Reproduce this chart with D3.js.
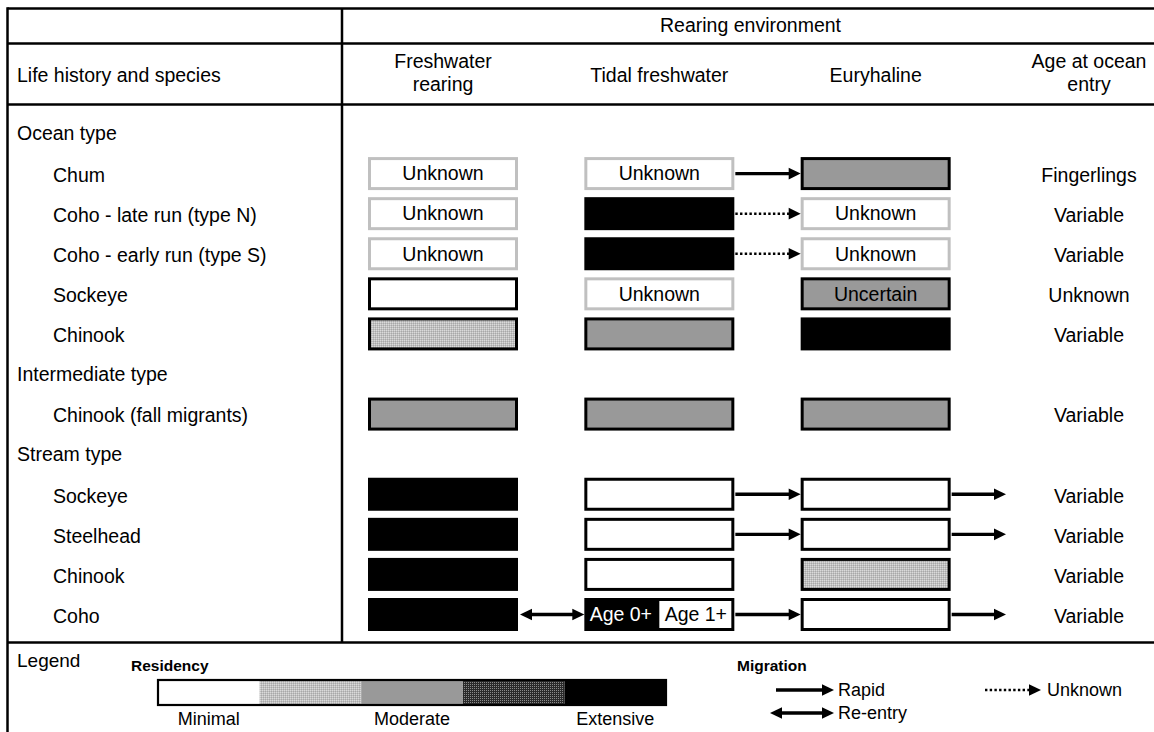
<!DOCTYPE html>
<html><head><meta charset="utf-8">
<script src="https://cdn.jsdelivr.net/npm/d3@7"></script>
<style>
html,body{margin:0;padding:0;background:#fff;}
svg{display:block;font-family:"Liberation Sans",Arial,Helvetica,sans-serif;}
</style></head><body>
<svg id="c" width="1154" height="732"></svg>
<script>
// ---------- data ----------
const spanHeader = "Rearing environment";
const rowHeader = "Life history and species";
const columns = ["Freshwater rearing", "Tidal freshwater", "Euryhaline", "Age at ocean entry"];
const columnHeaderLines = [["Freshwater", "rearing"], ["Tidal freshwater"], ["Euryhaline"], ["Age at ocean", "entry"]];
const rows = ["Ocean type", "Chum", "Coho - late run (type N)", "Coho - early run (type S)", "Sockeye", "Chinook",
  "Intermediate type", "Chinook (fall migrants)", "Stream type", "Sockeye", "Steelhead", "Chinook", "Coho"];
const isGroup = [true, false, false, false, false, false, true, false, true, false, false, false, false];
const residencyLevels = ["Minimal", "Low", "Moderate", "High", "Extensive"];
const residencyLegendLabels = ["Minimal", "", "Moderate", "", "Extensive"];
// residency per rearing environment (null = no box, "Unknown" = unknown, "Split" = Age 0+ / Age 1+)
const freshwater = [null, "Unknown", "Unknown", "Unknown", "Minimal", "Low", null, "Moderate", null, "Extensive", "Extensive", "Extensive", "Extensive"];
const tidal = [null, "Unknown", "Extensive", "Extensive", "Unknown", "Moderate", null, "Moderate", null, "Minimal", "Minimal", "Minimal", "Split"];
const euryhaline = [null, "Moderate", "Unknown", "Unknown", "Moderate", "Extensive", null, "Moderate", null, "Minimal", "Minimal", "Low", "Minimal"];
const euryhalineNotes = [null, null, null, null, "Uncertain", null, null, null, null, null, null, null, null];
const splitLabels = ["Age 0+", "Age 1+"];
const ageAtEntry = [null, "Fingerlings", "Variable", "Variable", "Unknown", "Variable", null, "Variable", null, "Variable", "Variable", "Variable", "Variable"];
// migrations: row index, from column, to column (3 = ocean), type
const migRow = [1, 2, 3, 9, 9, 10, 10, 12, 12, 12];
const migFrom = [1, 1, 1, 1, 2, 1, 2, 0, 1, 2];
const migTo = [2, 2, 2, 2, 3, 2, 3, 1, 2, 3];
const migType = ["Rapid", "Unknown", "Unknown", "Rapid", "Rapid", "Rapid", "Rapid", "Re-entry", "Rapid", "Rapid"];
const migrationLegend = ["Rapid", "Re-entry", "Unknown"];

// ---------- layout ----------
const W = 1154, H = 732;
const svg = d3.select("#c");
const FS = 19.5, LFS = 18, BFS = 15.5;
const frame = {left: 7.5, top: 8.5, divider: 342, hdr1: 43.5, hdr2: 104.5, bottom: 642.5};
const x = d3.scalePoint().domain(d3.range(columns.length)).range([443, 1092]);
const y = d3.scalePoint().domain(d3.range(rows.length)).range([133.5, 614.5]);
const boxW = 150, boxH = 33, sw = 3;

const defs = svg.append("defs");
const pLight = defs.append("pattern").attr("id", "light").attr("width", 2).attr("height", 2).attr("patternUnits", "userSpaceOnUse");
pLight.append("rect").attr("width", 2).attr("height", 2).attr("fill", "#c0c0c0");
pLight.append("rect").attr("width", 1).attr("height", 1).attr("fill", "#dadada");
pLight.append("rect").attr("x", 1).attr("y", 1).attr("width", 1).attr("height", 1).attr("fill", "#a8a8a8");
const pDark = defs.append("pattern").attr("id", "dark").attr("width", 2).attr("height", 2).attr("patternUnits", "userSpaceOnUse");
pDark.append("rect").attr("width", 2).attr("height", 2).attr("fill", "#2a2a2a");
pDark.append("rect").attr("width", 1).attr("height", 1).attr("fill", "#8a8a8a");
const fillFor = {Minimal: "#ffffff", Low: "url(#light)", Moderate: "#999999", High: "url(#dark)", Extensive: "#000000"};

// ---------- frame ----------
const g = svg.append("g").attr("stroke", "#000").attr("stroke-width", 2.5);
[frame.top, frame.hdr1, frame.hdr2, frame.bottom].forEach(v =>
  g.append("line").attr("x1", frame.left).attr("x2", W).attr("y1", v).attr("y2", v));
g.append("line").attr("x1", frame.left).attr("x2", frame.left).attr("y1", frame.top - 1.25).attr("y2", H);
g.append("line").attr("x1", frame.divider).attr("x2", frame.divider).attr("y1", frame.top).attr("y2", frame.bottom);

const txt = (sel, s, tx, ty, anchor, opts = {}) => sel.append("text").attr("x", tx).attr("y", ty)
  .attr("dy", "0.35em").attr("text-anchor", anchor).attr("font-size", opts.size || FS)
  .attr("font-weight", opts.weight || "normal").attr("fill", opts.fill || "#000").text(s);

// ---------- headers ----------
txt(svg, spanHeader, (x(0) + x(3)) / 2 - 17, 25.5, "middle");
txt(svg, rowHeader, 17, 75, "start");
columnHeaderLines.forEach((lines, i) => {
  const cx = x(i) - (i === 3 ? 3 : 0);
  if (lines.length === 1) txt(svg, lines[0], cx, 75, "middle");
  else lines.forEach((l, k) => txt(svg, l, cx, 61 + k * 23.5, "middle"));
});

// ---------- row labels ----------
rows.forEach((r, i) => txt(svg, r, isGroup[i] ? 17 : 53, y(i) + (isGroup[i] ? 0 : 1.5), "start"));

// ---------- boxes ----------
const envData = [freshwater, tidal, euryhaline];
const boxes = svg.append("g");
envData.forEach((arr, c) => arr.forEach((v, r) => {
  if (v == null) return;
  const cx = x(c), cy = y(r);
  const bx = cx - boxW / 2 + sw / 2, by = cy - boxH / 2 + sw / 2, bw = boxW - sw, bh = boxH - sw;
  if (v === "Split") {
    boxes.append("rect").attr("x", bx).attr("y", by).attr("width", bw / 2 + 1).attr("height", bh).attr("fill", "#000");
    boxes.append("rect").attr("x", cx).attr("y", by).attr("width", bw / 2).attr("height", bh).attr("fill", "#fff");
    boxes.append("rect").attr("x", bx).attr("y", by).attr("width", bw).attr("height", bh)
      .attr("fill", "none").attr("stroke", "#000").attr("stroke-width", sw);
    txt(boxes, splitLabels[0], cx - boxW / 4 - 1, cy, "middle", {fill: "#fff"});
    txt(boxes, splitLabels[1], cx + boxW / 4 - 1, cy, "middle");
    return;
  }
  const unknown = v === "Unknown";
  boxes.append("rect").attr("x", bx).attr("y", by).attr("width", bw).attr("height", bh)
    .attr("fill", unknown ? "#fff" : fillFor[v]).attr("stroke", unknown ? "#c0c0c0" : "#000").attr("stroke-width", sw);
  if (unknown) txt(boxes, "Unknown", cx, cy, "middle");
  if (c === 2 && euryhalineNotes[r]) txt(boxes, euryhalineNotes[r], cx, cy, "middle");
}));

// ---------- age at ocean entry ----------
ageAtEntry.forEach((a, r) => { if (a) txt(svg, a, x(3) - 3, y(r) + 1.5, "middle"); });

// ---------- arrows ----------
function arrow(sel, x1, x2, yy, type) {
  const head = 12, hw = 5.8;
  const gA = sel.append("g");
  const start = type === "Re-entry" ? x1 + head - 2 : x1;
  if (type === "Unknown") {
    gA.append("line").attr("x1", x1).attr("x2", x2 - head + 1).attr("y1", yy).attr("y2", yy)
      .attr("stroke", "#000").attr("stroke-width", 2.5).attr("stroke-dasharray", "2.4,2.3");
  } else {
    gA.append("line").attr("x1", start).attr("x2", x2 - head + 2).attr("y1", yy).attr("y2", yy)
      .attr("stroke", "#000").attr("stroke-width", 3.3);
  }
  gA.append("path").attr("d", `M${x2},${yy}L${x2 - head},${yy - hw}L${x2 - head},${yy + hw}Z`).attr("fill", "#000");
  if (type === "Re-entry")
    gA.append("path").attr("d", `M${x1},${yy}L${x1 + head},${yy - hw}L${x1 + head},${yy + hw}Z`).attr("fill", "#000");
}
const arrows = svg.append("g");
migRow.forEach((r, i) => {
  const x1 = x(migFrom[i]) + boxW / 2 + (migType[i] === "Re-entry" ? 2 : 1);
  const x2 = migTo[i] === 3 ? x(3) - 86 : x(migTo[i]) - boxW / 2;
  arrow(arrows, x1, x2, y(r), migType[i]);
});

// ---------- legend ----------
txt(svg, "Legend", 17, 660, "start", {size: 19});
txt(svg, "Residency", 131, 666, "start", {weight: "bold", size: BFS});
const lx = d3.scaleBand().domain(residencyLevels).range([158, 666]);
const leg = svg.append("g");
residencyLevels.forEach(l => leg.append("rect").attr("x", lx(l)).attr("y", 680).attr("width", lx.bandwidth()).attr("height", 25).attr("fill", fillFor[l]));
leg.append("rect").attr("x", 158).attr("y", 680).attr("width", 508).attr("height", 25).attr("fill", "none").attr("stroke", "#000").attr("stroke-width", 2.2);
residencyLevels.forEach((l, i) => { if (residencyLegendLabels[i]) txt(leg, residencyLegendLabels[i], lx(l) + lx.bandwidth() / 2, 719, "middle", {size: LFS}); });

txt(svg, "Migration", 737, 666, "start", {weight: "bold", size: BFS});
const migLegX = [[776, 834], [770, 834], [985, 1041]];
const migLegY = [690, 713, 690];
migrationLegend.forEach((m, i) => {
  arrow(svg, migLegX[i][0], migLegX[i][1], migLegY[i], m);
  txt(svg, m, migLegX[i][1] + 4 + (m === "Unknown" ? 2 : 0), migLegY[i], "start", {size: LFS});
});
</script>
</body></html>
